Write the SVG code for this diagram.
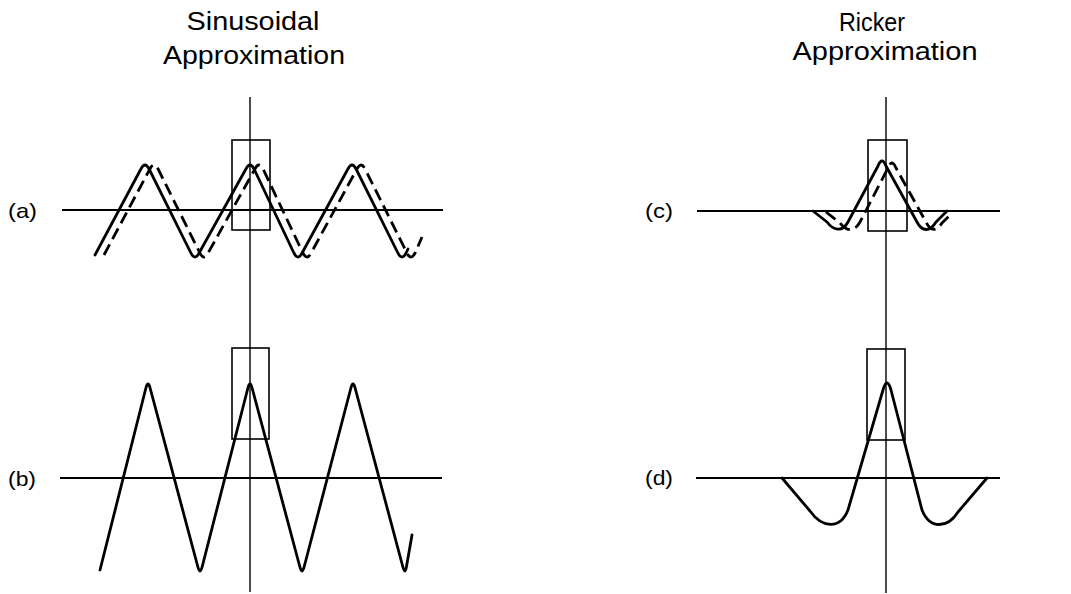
<svg xmlns="http://www.w3.org/2000/svg" width="1071" height="594" viewBox="0 0 1071 594">
<style>
.t{font-family:"Liberation Sans",Arial,sans-serif;fill:#000}
.title{font-size:25px}
.lab{font-size:21px}
.ax{stroke:#000;stroke-width:2;fill:none}
.vax{stroke:#000;stroke-width:1.4;fill:none}
.box{stroke:#000;stroke-width:1.6;fill:none}
.w{stroke:#000;stroke-width:2.8;fill:none;stroke-linejoin:round;stroke-linecap:round}
.d{stroke-dasharray:12 6;stroke-linecap:butt}
</style>
<rect width="1071" height="594" fill="#fff"/>
<g id="titles">
<text class="t title" x="253" y="30" text-anchor="middle" textLength="133" lengthAdjust="spacingAndGlyphs">Sinusoidal</text>
<text class="t title" x="254" y="64" text-anchor="middle" textLength="182" lengthAdjust="spacingAndGlyphs">Approximation</text>
<text class="t title" x="872" y="31" text-anchor="middle" textLength="66" lengthAdjust="spacingAndGlyphs">Ricker</text>
<text class="t title" x="885" y="60" text-anchor="middle" textLength="185" lengthAdjust="spacingAndGlyphs">Approximation</text>
</g>
<g id="axes">
<line class="vax" x1="250" y1="97" x2="250" y2="592"/>
<line class="vax" x1="886" y1="97" x2="886" y2="593"/>
</g>
<g id="panel-a">
<text class="t lab" x="8" y="218" textLength="29" lengthAdjust="spacingAndGlyphs">(a)</text>
<line class="ax" x1="62" y1="210" x2="443" y2="210"/>
<rect class="box" x="232" y="140" width="38" height="90"/>
<path class="w" d="M95 255 L140.9 169 Q145 161 149.1 169 L190.9 253 Q195 261 199.1 253 L245.9 169 Q250 161 254.1 169 L293.9 253 Q298 261 302.1 253 L347.9 169 Q352 161 356.1 169 L397.9 253 Q402 261 406.1 253 L408 249"/>
<path class="w d" d="M104 255 L149.9 169 Q154 161 158.1 169 L199.9 253 Q204 261 208.1 253 L254.9 169 Q259 161 263.1 169 L302.9 253 Q307 261 311.1 253 L356.9 169 Q361 161 365.1 169 L406.9 253 Q411 261 415.1 253 L422 237"/>
</g>
<g id="panel-b">
<text class="t lab" x="8" y="486" textLength="28" lengthAdjust="spacingAndGlyphs">(b)</text>
<line class="ax" x1="60" y1="478" x2="442" y2="478"/>
<rect class="box" x="232" y="348" width="37" height="91"/>
<path class="w" d="M100 570 L145.9 388 Q148 380 150.1 388 L197.9 567 Q200 575 202.1 567 L247.9 388 Q250 380 252.1 388 L299.9 567 Q302 575 304.1 567 L350.9 388 Q353 380 355.1 388 L402.9 567 Q405 575 406.4 567 L412 535"/>
</g>
<g id="panel-c">
<text class="t lab" x="645" y="218" textLength="28" lengthAdjust="spacingAndGlyphs">(c)</text>
<line class="ax" x1="697" y1="211" x2="1000" y2="211"/>
<rect class="box" x="868" y="140" width="39" height="91"/>
<path class="w" d="M813 211 L827 222 C833 230 842 233 848 222 L878 166 Q882 156 886 166 L917 222 C922 232 930 232 936 222 L947 211"/>
<path class="w d" d="M826 212 L840 223 C846 231 854 233 860 222 L888 168 Q892 158 896 168 L926 222 C931 232 937 231 942 223 L950 215"/>
</g>
<g id="panel-d">
<text class="t lab" x="645" y="485" textLength="28" lengthAdjust="spacingAndGlyphs">(d)</text>
<line class="ax" x1="696" y1="478" x2="1000" y2="478"/>
<rect class="box" x="867" y="349" width="38" height="91"/>
<path class="w" d="M782 478 L810 511 C822 528 840 530 848 510 L883 390 Q887 376 891 390 L922 510 C930 530 948 528 958 512 L987 478"/>
</g>
</svg>
